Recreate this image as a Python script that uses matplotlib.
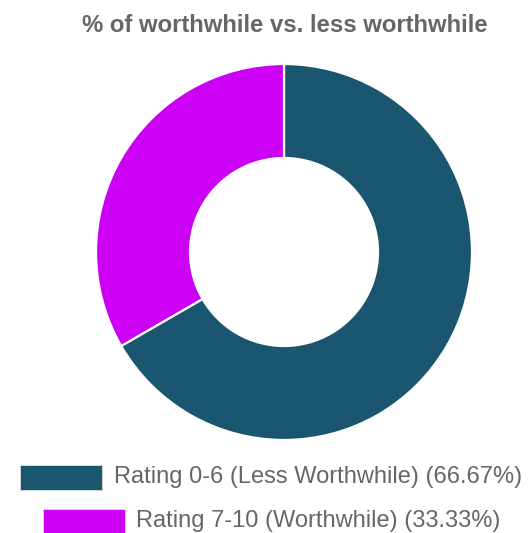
import matplotlib
matplotlib.use("Agg")
import matplotlib.pyplot as plt
from matplotlib.patches import Rectangle

labels = ["Rating 0-6 (Less Worthwhile)", "Rating 7-10 (Worthwhile)"]
shares = [66.67, 33.33]
colors = ["#1b5670", "#cc00f5"]
title = "% of worthwhile vs. less worthwhile"

W, H = 531, 533
fig = plt.figure(figsize=(W / 100, H / 100), dpi=100)
fig.patch.set_facecolor("white")
plt.rcParams["font.family"] = ["Liberation Sans", "DejaVu Sans"]

# donut: centre (284, 252) px, outer radius 188 px
cx, cy, r = 284, 252, 188
ax = fig.add_axes([(cx - r) / W, (H - cy - r) / H, 2 * r / W, 2 * r / H])
ax.pie(shares, colors=colors, startangle=90, counterclock=False, radius=1,
       wedgeprops=dict(width=0.5, edgecolor="white", linewidth=1.6))
ax.set_xlim(-1, 1)
ax.set_ylim(-1, 1)
ax.set_aspect("equal")
ax.axis("off")

fig.text(285 / W, 1 - 25 / H, title, ha="center", va="center",
         fontsize=17.2, fontweight="bold", color="#666666")

# legend rows, centred like Chart.js
rows = [(20, 465, 114, 477), (43, 509, 136, 521)]
for (bx, by, tx, ty), lab, val, col in zip(rows, labels, shares, colors):
    fig.patches.append(Rectangle((bx / W, 1 - (by + 25) / H), 82 / W, 25 / H,
                                 transform=fig.transFigure, facecolor=col,
                                 edgecolor="#dddddd", linewidth=0.6))
    fig.text(tx / W, 1 - ty / H, f"{lab} ({val:.2f}%)", ha="left", va="center",
             fontsize=17, color="#666666")

fig.savefig("out.png", dpi=100)
